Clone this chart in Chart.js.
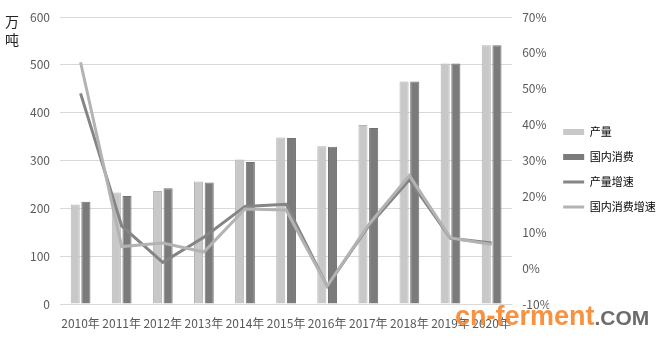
<!DOCTYPE html>
<html>
<head>
<meta charset="utf-8">
<script src="https://cdn.jsdelivr.net/npm/chart.js@4/dist/chart.umd.min.js"></script>
<style>
  html, body { margin: 0; padding: 0; background: #ffffff; }
  #wrap { position: relative; width: 662px; height: 339px; }
</style>
</head>
<body>
<div id="wrap"><canvas id="c" width="662" height="339"></canvas></div>
<script>
// ---- data ----
const categories = ['2010年','2011年','2012年','2013年','2014年','2015年','2016年','2017年','2018年','2019年','2020年'];
const production = [208, 233, 236, 256, 302, 348, 330, 374, 465, 503, 541];
const consumption = [214, 226, 242, 254, 297, 347, 329, 368, 465, 503, 541];
const productionGrowth = [48.7, 11.8, 1.6, 8.6, 17.2, 17.8, -5.0, 11.6, 24.6, 8.3, 7.0];
const consumptionGrowth = [57.4, 6.0, 7.0, 4.5, 16.5, 16.2, -5.0, 12.0, 25.8, 8.4, 6.6];
const seriesNames = ['产量', '国内消费', '产量增速', '国内消费增速'];
const leftTicks = [0, 100, 200, 300, 400, 500, 600];
const rightTicks = [-10, 0, 10, 20, 30, 40, 50, 60, 70];
const unitLabel = ['万', '吨'];
const watermark = ['cn-ferment', '.COM'];

const tickFont = { family: "'Liberation Sans Narrow', 'Noto Sans CJK SC', sans-serif", size: 12 };
const tickColor = '#595959';

const extras = {
  id: 'extras',
  afterDraw(chart) {
    const ctx = chart.ctx;
    ctx.save();
    ctx.fillStyle = '#222222';
    ctx.font = "14px 'Noto Sans CJK SC', sans-serif";
    ctx.textAlign = 'center';
    ctx.textBaseline = 'middle';
    ctx.fillText(unitLabel[0], 12, 22);
    ctx.fillText(unitLabel[1], 12, 40);
    // watermark
    ctx.textAlign = 'left';
    ctx.textBaseline = 'alphabetic';
    ctx.font = "bold 27px 'Liberation Sans', 'DejaVu Sans', sans-serif";
    ctx.fillStyle = 'rgba(246,140,55,0.95)';
    ctx.fillText(watermark[0], 455, 325);
    const w = ctx.measureText(watermark[0]).width;
    ctx.fillStyle = 'rgba(100,100,100,0.95)';
    ctx.font = "bold 21px 'Liberation Sans', 'DejaVu Sans', sans-serif";
    ctx.fillText(watermark[1], 455 + w, 325);
    ctx.restore();
  }
};

new Chart(document.getElementById('c'), {
  data: {
    labels: categories,
    datasets: [
      { type: 'bar', label: seriesNames[0], data: production, yAxisID: 'y', order: 2,
        backgroundColor: '#c8c8c8', borderColor: '#b4b4b4', borderWidth: 1,
        barPercentage: 0.85, categoryPercentage: 0.52 },
      { type: 'bar', label: seriesNames[1], data: consumption, yAxisID: 'y', order: 2,
        backgroundColor: '#7b7b7b', borderColor: '#707070', borderWidth: 1,
        barPercentage: 0.85, categoryPercentage: 0.52 },
      { type: 'line', label: seriesNames[2], data: productionGrowth, yAxisID: 'y1', order: 1,
        borderColor: '#858585', backgroundColor: '#858585', borderWidth: 3,
        pointRadius: 0, tension: 0, fill: false },
      { type: 'line', label: seriesNames[3], data: consumptionGrowth, yAxisID: 'y1', order: 0,
        borderColor: '#b3b3b3', backgroundColor: '#b3b3b3', borderWidth: 3,
        pointRadius: 0, tension: 0, fill: false }
    ]
  },
  options: {
    responsive: false,
    animation: false,
    layout: { padding: { top: 0, left: 0, right: 3, bottom: 0 } },
    plugins: {
      tooltip: { enabled: false },
      legend: {
        position: 'right',
        labels: {
          usePointStyle: true,
          pointStyleWidth: 21,
          boxHeight: 6,
          padding: 14,
          color: '#333333',
          font: { family: "'Noto Sans CJK SC', sans-serif", size: 11 },
          generateLabels(chart) {
            return chart.data.datasets.map((ds, i) => ({
              text: ds.label,
              fillStyle: ds.backgroundColor,
              strokeStyle: ds.type === 'line' ? ds.borderColor : ds.backgroundColor,
              lineWidth: ds.type === 'line' ? 3 : 0,
              pointStyle: ds.type === 'line' ? 'line' : 'rect',
              datasetIndex: i,
              hidden: false
            }));
          }
        }
      }
    },
    scales: {
      x: {
        grid: { display: false },
        border: { display: false },
        ticks: { font: tickFont, color: tickColor, padding: 4, maxRotation: 0, autoSkip: false },
        afterFit(s) { s.height = 35; }
      },
      y: {
        position: 'left',
        min: 0, max: 600,
        afterBuildTicks(s) { s.ticks = leftTicks.map(v => ({ value: v })); },
        grid: { color: '#d9d9d9', lineWidth: 1, drawTicks: false },
        border: { display: false },
        ticks: { font: tickFont, color: tickColor, padding: 10 },
        afterFit(s) { s.width = 60; s.paddingTop = 17; }
      },
      y1: {
        position: 'right',
        min: -10, max: 70,
        afterBuildTicks(s) { s.ticks = rightTicks.map(v => ({ value: v })); },
        grid: { display: false, drawTicks: false },
        border: { display: false },
        ticks: { font: tickFont, color: tickColor, padding: 10, callback: v => v + '%' },
        afterFit(s) { s.width = 37; s.paddingTop = 17; }
      }
    }
  },
  plugins: [extras]
});
</script>
</body>
</html>
